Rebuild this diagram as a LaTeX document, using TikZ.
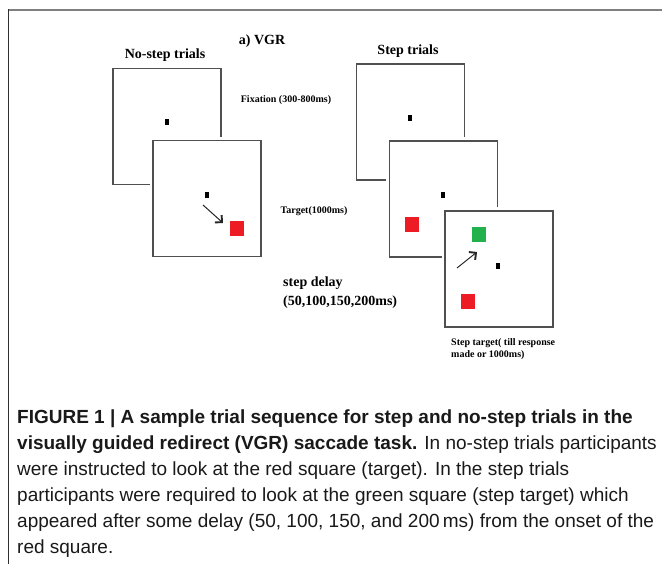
\documentclass[tikz,border=0pt]{standalone}
\usepackage{fontspec}
\setmainfont{Liberation Serif}
\newfontfamily\capfont{Liberation Sans}
\usetikzlibrary{arrows.meta}
\definecolor{boxgray}{HTML}{505050}
\definecolor{topgray}{HTML}{808080}
\definecolor{leftgray}{HTML}{303030}
\definecolor{tred}{HTML}{ED1C24}
\definecolor{tgreen}{HTML}{22B14C}
\tikzset{
  screen/.style={draw=boxgray, line width=1.5pt, fill=white, inner sep=0pt,
    minimum width=108pt, minimum height=116pt,
    preaction={draw=white, line width=7pt}},
  fixdot/.style={fill=black, inner sep=0pt, minimum width=3.5pt, minimum height=5.5pt},
  redsq/.style={fill=tred, inner sep=0pt, minimum width=14pt, minimum height=15pt},
  greensq/.style={fill=tgreen, inner sep=0pt, minimum width=14pt, minimum height=15pt},
  saccade/.style={draw=black!85, line width=1pt,
    -{Straight Barb[length=5pt,width=10pt,line width=1.9pt]}},
  title/.style={font=\fontsize{14}{16}\selectfont\bfseries, inner sep=0pt},
  small/.style={font=\fontsize{10}{12.5}\selectfont\bfseries, inner sep=0pt},
  capline/.style={font=\capfont\fontsize{19}{26}\selectfont, anchor=base west, inner sep=0pt, text=black!90}
}
\begin{document}
\begin{tikzpicture}[x=1pt,y=-1pt]
\useasboundingbox (0,0) rectangle (662,564);
% outer frame
\draw[topgray, line width=1.5pt] (8,10) -- (662,10);
\draw[leftgray, line width=1.5pt] (8.5,9.5) -- (8.5,564);

% titles
\node[title] (vgr) at (262,41) {a) VGR};
\node[title] (nst) at (165,55) {No-step trials};
\node[title] (st) at (408,51) {Step trials};

% no-step screens
\node[screen] (ns1) at (167,126.5) {};
\node[fixdot] (ns1d) at (167,122) {};
\node[screen] (ns2) at (207,198.5) {};
\node[fixdot] (ns2d) at (207,195) {};
\node[redsq] (ns2r) at (237,228.5) {};
\coordinate (ns2a) at (203,205);
\coordinate (ns2b) at (223,223);
\draw[saccade] (ns2a) -- (ns2b);

% step screens
\node[screen] (s1) at (410.5,122) {};
\node[fixdot] (s1d) at (410,118) {};
\node[screen] (s2) at (443.5,199) {};
\node[fixdot] (s2d) at (443,195) {};
\node[redsq] (s2r) at (411.5,224.5) {};
\node[screen] (s3) at (499,269) {};
\node[fixdot] (s3d) at (498,266) {};
\node[greensq] (s3g) at (479,234.5) {};
\node[redsq] (s3r) at (468,301.5) {};
\coordinate (s3a) at (457,268);
\coordinate (s3b) at (477,252);
\draw[saccade] (s3a) -- (s3b);

% labels
\node[small] (fix) at (286,100) {Fixation (300-800ms)};
\node[small] (tgt) at (314,211) {Target(1000ms)};
\node[title, anchor=west] (sd1) at (283,283) {step delay};
\node[title, anchor=west] (sd2) at (283,302) {(50,100,150,200ms)};
\node[small, anchor=west] (stg1) at (451,343) {Step target( till response};
\node[small, anchor=west] (stg2) at (451,355.5) {made or 1000ms)};

% caption
\node[capline] (c1) at (17,423) {\bfseries FIGURE 1 | A sample trial sequence for step and no-step trials in the};
\node[capline] (c2) at (17,449) {\bfseries visually guided redirect (VGR) saccade task.\mdseries{} In no-step trials participants};
\node[capline] (c3) at (17,475) {were instructed to look at the red square (target). In the step trials};
\node[capline] (c4) at (17,501) {participants were required to look at the green square (step target) which};
\node[capline] (c5) at (17,527) {appeared after some delay (50, 100, 150, and 200\,ms) from the onset of the};
\node[capline] (c6) at (17,553) {red square.};
\end{tikzpicture}
\end{document}
